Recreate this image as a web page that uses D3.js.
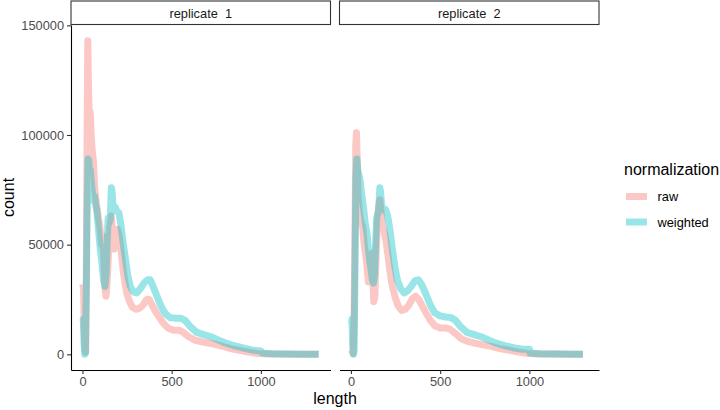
<!DOCTYPE html>
<html>
<head>
<meta charset="utf-8">
<script src="https://cdn.jsdelivr.net/npm/d3@7"></script>
<style>
  body { margin: 0; background: #fff; }
  svg { display: block; font-family: "Liberation Sans", Arial, sans-serif; }
</style>
</head>
<body>
<svg id="chart" width="720" height="410"></svg>
<script>
// panels and series
const replicates = ["replicate  1", "replicate  2"];
const normalizations = ["raw", "weighted"];
const yTicks = [0, 50000, 100000, 150000];
const xTicks = [0, 500, 1000];

// [length, count]
const rep1Raw = [
  [2, 32000], [6, 30000], [10, 12000], [14, 2000], [18, 1000], [22, 40000], [26, 100000],
  [30, 143000], [33, 125000], [37, 112000], [44, 110000], [50, 98000], [56, 92000],
  [62, 88000], [68, 76000], [74, 72000], [82, 66000], [90, 62000], [98, 58000],
  [108, 50000], [114, 54000], [120, 44000], [126, 30000], [132, 26500], [138, 32000],
  [146, 46000], [154, 58000], [162, 63000], [170, 54000], [178, 48000], [186, 52000],
  [196, 57000], [206, 54000], [218, 46000], [232, 36000], [248, 28000], [264, 24000],
  [280, 21500], [300, 20500], [320, 21000], [340, 22500], [360, 25000], [375, 25000],
  [390, 22500], [410, 19500], [430, 17000], [455, 14000], [480, 12000], [510, 11000],
  [540, 11000], [565, 10000], [595, 8000], [630, 6500], [680, 5500], [730, 4800],
  [780, 3800], [830, 2600], [880, 1800], [930, 1000], [980, 400], [1040, 200],
  [1100, 100], [1200, 50], [1324, 0]
];
const rep1Weighted = [
  [2, 15000], [5, 16000], [9, 5000], [13, 0], [17, 500], [22, 30000], [27, 70000],
  [32, 89000], [36, 88000], [40, 80000], [44, 84000], [50, 78000], [56, 74000],
  [62, 70000], [68, 72000], [74, 68000], [80, 66000], [90, 57000], [100, 48000],
  [109, 42000], [118, 34000], [126, 31000], [132, 36000], [138, 50000], [144, 62000],
  [150, 60000], [156, 62000], [162, 76000], [166, 74000], [172, 66000], [184, 67000],
  [194, 65000], [204, 64500], [214, 60000], [226, 52000], [240, 44000], [254, 36000],
  [268, 31000], [285, 28500], [305, 28000], [325, 30000], [345, 32500], [365, 34000],
  [380, 34000], [398, 30500], [418, 26500], [440, 22000], [465, 18500], [493, 16700],
  [520, 16500], [550, 16500], [575, 15500], [600, 13000], [640, 10000], [680, 9000],
  [720, 8000], [760, 6600], [800, 5200], [850, 3900], [900, 2900], [950, 2000],
  [1000, 1500], [1008, 600], [1060, 300], [1150, 100], [1250, 50], [1324, 0]
];
const rep2Raw = [
  [3, 2000], [8, 1000], [13, 500], [18, 20000], [23, 60000], [27, 95000], [31, 101000],
  [35, 90000], [40, 72000], [46, 66000], [52, 62000], [58, 60000], [66, 58000],
  [74, 50000], [82, 46000], [90, 40000], [98, 33000], [106, 36000], [112, 44000],
  [118, 46000], [122, 36000], [128, 24000], [134, 26000], [140, 42000], [148, 60000],
  [156, 68000], [162, 70500], [168, 65000], [176, 58000], [186, 56000], [196, 52000],
  [206, 46000], [218, 38000], [232, 31000], [248, 26000], [265, 22000], [285, 20000],
  [305, 20500], [325, 22500], [345, 25500], [362, 26500], [380, 25000], [400, 22000],
  [420, 19000], [445, 15500], [470, 13000], [500, 12000], [530, 12000], [555, 11500],
  [585, 9500], [620, 7000], [660, 5800], [700, 5000], [740, 4300], [790, 3500],
  [840, 2500], [890, 1800], [940, 1000], [990, 400], [1050, 200], [1150, 100],
  [1250, 50], [1300, 0]
];
const rep2Weighted = [
  [3, 14000], [6, 16000], [10, 4000], [14, 0], [18, 2000], [23, 40000], [28, 80000],
  [33, 89000], [38, 84000], [44, 82000], [50, 80000], [56, 76000], [62, 72000],
  [70, 67000], [80, 60000], [90, 55000], [98, 48000], [106, 42000], [114, 38000],
  [120, 34000], [126, 32500], [132, 36000], [138, 50000], [144, 62000], [150, 64000],
  [156, 66000], [162, 76000], [166, 74000], [172, 68000], [182, 66000], [194, 66000],
  [206, 63000], [218, 57000], [232, 48000], [246, 40000], [260, 34000], [278, 30000],
  [298, 28000], [318, 29000], [338, 31000], [358, 33500], [378, 34000], [398, 31500],
  [420, 27500], [445, 22500], [470, 19000], [500, 17500], [530, 17000], [560, 16800],
  [585, 15500], [610, 13000], [650, 10000], [690, 9000], [730, 8000], [770, 6600],
  [810, 5200], [860, 4000], [910, 3000], [960, 2300], [1000, 2300], [1004, 600],
  [1060, 300], [1150, 100], [1250, 50], [1300, 0]
];

const seriesByPanel = [
  { raw: rep1Raw, weighted: rep1Weighted },
  { raw: rep2Raw, weighted: rep2Weighted }
];

const colors = { raw: "#F8766D", weighted: "#00BFC4" };
const alpha = 0.4;
const lineWidth = 7;

const svg = d3.select("#chart");
const panelLefts = [71, 339.5];
const panelWidth = 259.5;
const panelTop = 25, panelBottom = 370;
const stripTop = 1;

// shared (fixed) scales with ggplot-style 5% expansion
const allPts = [rep1Raw, rep1Weighted, rep2Raw, rep2Weighted].flat();
const xExt = d3.extent(allPts, (d) => d[0]);
const yExt = d3.extent(allPts, (d) => d[1]);
const xPad = (xExt[1] - xExt[0]) * 0.05;
const yPad = (yExt[1] - yExt[0]) * 0.05;

const y = d3.scaleLinear()
  .domain([yExt[0] - yPad, yExt[1] + yPad])
  .range([panelBottom, panelTop]);

replicates.forEach((rep, i) => {
  const left = panelLefts[i];
  const x = d3.scaleLinear()
    .domain([xExt[0] - xPad, xExt[1] + xPad])
    .range([left, left + panelWidth]);

  const line = d3.line()
    .x((d) => x(d[0]))
    .y((d) => y(d[1]));

  // strip
  svg.append("rect")
    .attr("x", left).attr("y", stripTop)
    .attr("width", panelWidth).attr("height", panelTop - stripTop - 0.5)
    .attr("fill", "#fff").attr("stroke", "#333").attr("stroke-width", 1.1);
  svg.append("text")
    .attr("x", left + panelWidth / 2).attr("y", (stripTop + panelTop) / 2 + 4.5)
    .attr("text-anchor", "middle")
    .attr("font-size", 12.8).attr("fill", "#1A1A1A")
    .style("white-space", "pre")
    .text(rep);

  // lines
  normalizations.forEach((n) => {
    svg.append("path")
      .datum(seriesByPanel[i][n])
      .attr("fill", "none")
      .attr("stroke", colors[n])
      .attr("stroke-opacity", alpha)
      .attr("stroke-width", lineWidth)
      .attr("stroke-linejoin", "round")
      .attr("stroke-linecap", "butt")
      .attr("d", line);
  });

  // x axis
  const gx = svg.append("g")
    .attr("transform", "translate(0," + panelBottom + ")")
    .call(d3.axisBottom(x).tickValues(xTicks).tickFormat(d3.format("d"))
      .tickSize(4).tickPadding(3).tickSizeOuter(0));
  gx.select(".domain").attr("stroke", "#000").attr("stroke-width", 1.1);
  gx.selectAll(".tick line").attr("stroke", "#333").attr("stroke-width", 1.1);
  gx.selectAll(".tick text")
    .attr("font-size", 12.8).attr("fill", "#4D4D4D").attr("font-family", null);

  if (i === 0) {
    const gy = svg.append("g")
      .attr("transform", "translate(" + left + ",0)")
      .call(d3.axisLeft(y).tickValues(yTicks).tickFormat(d3.format("d"))
        .tickSize(4).tickPadding(3).tickSizeOuter(0));
    gy.select(".domain").attr("stroke", "#000").attr("stroke-width", 1.1);
    gy.selectAll(".tick line").attr("stroke", "#333").attr("stroke-width", 1.1);
    gy.selectAll(".tick text")
      .attr("font-size", 12.8).attr("fill", "#4D4D4D").attr("font-family", null);
  }
});

// axis titles
svg.append("text")
  .attr("x", (panelLefts[0] + panelLefts[1] + panelWidth) / 2)
  .attr("y", 404)
  .attr("text-anchor", "middle")
  .attr("font-size", 16).attr("fill", "#000")
  .text("length");
svg.append("text")
  .attr("transform", "translate(14," + (panelTop + panelBottom) / 2 + ") rotate(-90)")
  .attr("text-anchor", "middle")
  .attr("font-size", 16).attr("fill", "#000")
  .text("count");

// legend
const legend = svg.append("g");
legend.append("text")
  .attr("x", 624).attr("y", 175)
  .attr("font-size", 16).attr("fill", "#000")
  .text("normalization");
normalizations.forEach((n, k) => {
  const cy = 196.5 + k * 25.5;
  legend.append("line")
    .attr("x1", 626).attr("x2", 647)
    .attr("y1", cy).attr("y2", cy)
    .attr("stroke", colors[n]).attr("stroke-opacity", alpha)
    .attr("stroke-width", lineWidth);
  legend.append("text")
    .attr("x", 657.5).attr("y", cy + 4.6)
    .attr("font-size", 12.8).attr("fill", "#000")
    .text(n);
});
</script>
</body>
</html>
